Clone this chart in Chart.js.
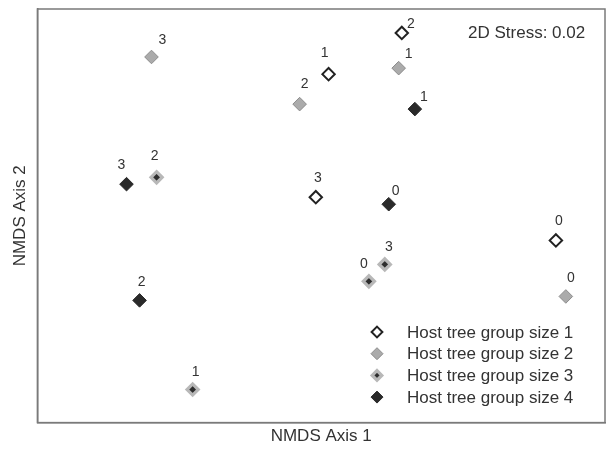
<!DOCTYPE html>
<html>
<head>
<meta charset="utf-8">
<script src="https://cdn.jsdelivr.net/npm/chart.js@4.4.1/dist/chart.umd.min.js"></script>
<style>
html, body { margin: 0; padding: 0; background: #fff; }
#wrap { width: 606px; height: 449px; }
</style>
</head>
<body>
<div id="wrap"><canvas id="nmds"></canvas></div>
<script>
// NMDS scores (arbitrary units, both axes -1..1)
const groupNames = ['Host tree group size 1', 'Host tree group size 2', 'Host tree group size 3', 'Host tree group size 4'];

const size1X = [0.284, 0.026, -0.019, 0.827];
const size1Y = [0.884, 0.685, 0.090, -0.119];
const size1Labels = ['2', '1', '3', '0'];

const size2X = [-0.598, 0.273, -0.076, 0.862];
const size2Y = [0.768, 0.714, 0.540, -0.390];
const size2Labels = ['3', '1', '2', '0'];

const size3X = [-0.580, 0.224, 0.168, -0.453];
const size3Y = [0.186, -0.235, -0.317, -0.840];
const size3Labels = ['2', '3', '0', '1'];

const size4X = [-0.686, 0.330, 0.238, -0.640];
const size4Y = [0.153, 0.516, 0.056, -0.409];
const size4Labels = ['3', '1', '0', '2'];

const stressText = '2D Stress: 0.02';

// label nudges in pixels (centre of the number relative to the marker)
const labelNudges = [
    [[9, -9], [-4, -21], [2, -19], [3, -19]],
    [[11, -17], [10, -14], [5, -20], [5, -18]],
    [[-2, -21], [4, -17], [-5, -17], [3, -17]],
    [[-5, -19], [9, -12], [7, -13], [2, -18]],
];

const markerStyles = [
    { bg: '#ffffff', border: '#222222', width: 2, radius: 6.2 },
    { bg: '#ababab', border: '#8c8c8c', width: 1, radius: 6.8 },
    { bg: '#2e2e2e', border: '#b8b8b8', width: 3.2, radius: 5.6 },
    { bg: '#2a2a2a', border: '#2a2a2a', width: 1, radius: 6.8 },
];

const toPoints = (xs, ys) => xs.map((x, i) => ({ x, y: ys[i] }));
const groups = [
    { xs: size1X, ys: size1Y, labels: size1Labels },
    { xs: size2X, ys: size2Y, labels: size2Labels },
    { xs: size3X, ys: size3Y, labels: size3Labels },
    { xs: size4X, ys: size4Y, labels: size4Labels },
];

const textColor = '#333333';
const fontFamily = '"Liberation Sans", Arial, sans-serif';

const diamond = (ctx, x, y, r) => {
    ctx.beginPath();
    ctx.moveTo(x, y - r);
    ctx.lineTo(x + r, y);
    ctx.lineTo(x, y + r);
    ctx.lineTo(x - r, y);
    ctx.closePath();
};

const extrasPlugin = {
    id: 'extras',
    afterDatasetsDraw(chart) {
        const { ctx, chartArea } = chart;
        ctx.save();

        // frame on top and right
        ctx.strokeStyle = '#7a7a7a';
        ctx.lineWidth = 1.5;
        ctx.strokeRect(chartArea.left, chartArea.top, chartArea.right - chartArea.left, chartArea.bottom - chartArea.top);

        // site numbers next to each marker
        ctx.fillStyle = textColor;
        ctx.font = '14px ' + fontFamily;
        ctx.textAlign = 'center';
        ctx.textBaseline = 'middle';
        chart.data.datasets.forEach((ds, di) => {
            chart.getDatasetMeta(di).data.forEach((pt, i) => {
                const [dx, dy] = labelNudges[di][i];
                ctx.fillText(groups[di].labels[i], pt.x + dx, pt.y + dy);
            });
        });

        // stress value
        ctx.font = '17px ' + fontFamily;
        ctx.textAlign = 'left';
        ctx.fillText(stressText, 468, 33);

        // legend inside the plot, bottom right
        const legendX = 377;
        const legendTop = 332;
        const rowGap = 21.7;
        groupNames.forEach((name, i) => {
            const y = legendTop + i * rowGap;
            const s = markerStyles[i];
            diamond(ctx, legendX, y, s.radius - 0.8);
            ctx.fillStyle = s.bg;
            ctx.fill();
            ctx.strokeStyle = s.border;
            ctx.lineWidth = s.width;
            ctx.stroke();
            ctx.fillStyle = textColor;
            ctx.fillText(name, 407, y + 1);
        });
        ctx.restore();
    },
};

new Chart(document.getElementById('nmds'), {
    type: 'scatter',
    data: {
        datasets: groups.map((g, i) => ({
            label: groupNames[i],
            data: toPoints(g.xs, g.ys),
            pointStyle: 'rectRot',
            pointRadius: markerStyles[i].radius,
            pointBackgroundColor: markerStyles[i].bg,
            pointBorderColor: markerStyles[i].border,
            pointBorderWidth: markerStyles[i].width,
        })),
    },
    options: {
        responsive: true,
        maintainAspectRatio: false,
        animation: false,
        layout: { autoPadding: false, padding: { left: 6, top: 9, right: 1, bottom: 0 } },
        plugins: {
            legend: { display: false },
            tooltip: { enabled: false },
        },
        scales: {
            x: {
                min: -1,
                max: 1,
                ticks: { display: false },
                grid: { display: false, drawTicks: false },
                border: { color: '#7a7a7a', width: 1.5 },
                title: {
                    display: true,
                    text: 'NMDS Axis 1',
                    color: textColor,
                    font: { family: fontFamily, size: 17 },
                    padding: { top: 4, bottom: 2 },
                },
            },
            y: {
                min: -1,
                max: 1,
                ticks: { display: false },
                grid: { display: false, drawTicks: false },
                border: { color: '#7a7a7a', width: 1.5 },
                title: {
                    display: true,
                    text: 'NMDS Axis 2',
                    color: textColor,
                    font: { family: fontFamily, size: 17 },
                    padding: { top: 4, bottom: 7 },
                },
            },
        },
    },
    plugins: [extrasPlugin],
});
</script>
</body>
</html>
